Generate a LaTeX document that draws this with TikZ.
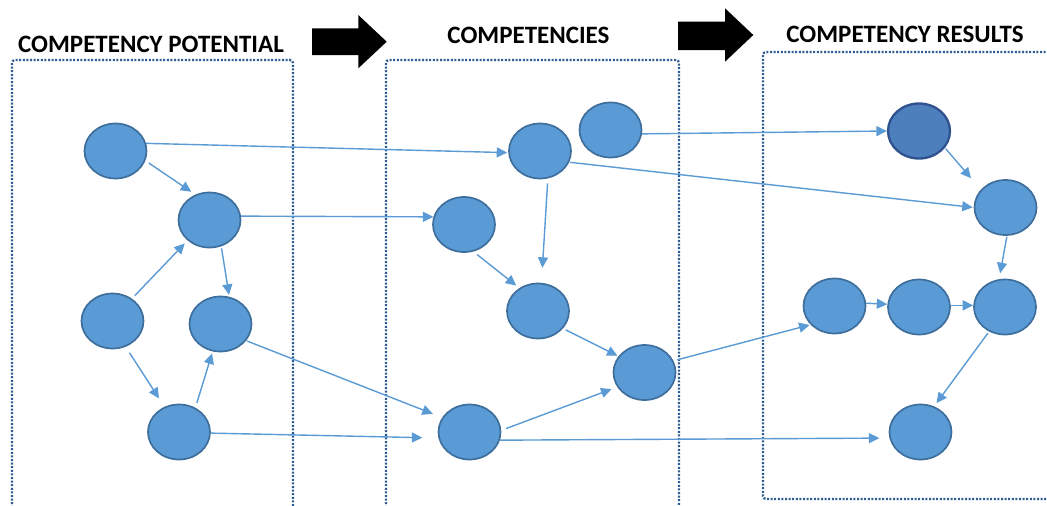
\documentclass[tikz,border=0pt]{standalone}
\usepackage{fontspec}
\setmainfont{Carlito}
\usetikzlibrary{shapes.geometric,arrows.meta}
\definecolor{nodefill}{HTML}{5B9BD5}
\definecolor{nodeline}{HTML}{3D6E9C}
\definecolor{darkfill}{HTML}{4D7FBC}
\definecolor{darkline}{HTML}{2F528F}
\definecolor{edgecol}{HTML}{5B9BD5}
\definecolor{boxcol}{HTML}{2C5C92}
\tikzset{
  circ/.style={ellipse, draw=nodeline, fill=nodefill, line width=1.7pt,
    minimum width=62pt, minimum height=55pt, inner sep=0pt},
  darkcirc/.style={circ, draw=darkline, fill=darkfill, line width=2.3pt},
  edge/.style={draw=edgecol, line width=1.4pt,
    -{Triangle[length=10.5pt,width=10pt]}},
  dotbox/.style={draw=boxcol, line width=2.3pt, dash pattern=on 2pt off 1.6pt,
    rounded corners=3pt},
  title/.style={font=\bfseries\fontsize{25}{29}\selectfont, inner sep=0pt},
  bigarrow/.style={fill=black, draw=none}
}
\begin{document}
\begin{tikzpicture}[x=1pt,y=-1pt]
\useasboundingbox (0,0) rectangle (1047,506);
\clip (0,0) rectangle (1047,506);
\fill[white] (0,0) rectangle (1047,506);

% dotted boxes
\draw[dotbox] (12,515) -- (12,60) -- (293,60) -- (293,515);
\draw[dotbox] (386,515) -- (386,60) -- (679,60) -- (679,515);
\draw[dotbox] (1060,52) -- (763,52) -- (763,499) -- (1060,499);

% titles
\node[title] (t1) at (151,44.5) {COMPETENCY POTENTIAL};
\node[title] (t2) at (528.5,35.5) {COMPETENCIES};
\node[title] (t3) at (905,34.5) {COMPETENCY RESULTS};

% block arrows
\fill[bigarrow] (312,28.3) -- (358.3,28.3) -- (358.3,15) -- (386.7,41.7)
  -- (358.3,68.3) -- (358.3,55) -- (312,55) -- cycle;
\fill[bigarrow] (678,21.7) -- (725,21.7) -- (725,8.3) -- (753.3,35)
  -- (725,61.7) -- (725,50) -- (678,50) -- cycle;

% nodes
\node[circ] (A1) at (115.5,151) {};
\node[circ] (A2) at (209.5,220) {};
\node[circ] (A3) at (112.5,321) {};
\node[circ] (A4) at (220.5,324) {};
\node[circ] (A5) at (179,432) {};
\node[circ] (B1) at (540,151) {};
\node[circ] (B2) at (610.5,130) {};
\node[circ] (B3) at (464,224.5) {};
\node[circ] (B4) at (538,311) {};
\node[circ] (B5) at (644.5,372.5) {};
\node[circ] (B6) at (469.5,432) {};
\node[darkcirc] (C1) at (919,131) {};
\node[circ] (C2) at (1005.5,207.5) {};
\node[circ] (C3) at (834.5,306) {};
\node[circ] (C4) at (919,307) {};
\node[circ] (C5) at (1005,307) {};
\node[circ] (C6) at (920.5,432) {};

% edges
\draw[edge, shorten <=4pt, shorten >=5pt] (A1.-18) -- (A2.119);
\draw[edge, shorten >=1pt] (A1.14) -- (B1.183);
\draw[edge] (A2.7) -- (B3.166);
\draw[edge, shorten <=2pt, shorten >=2pt] (A2.-66) -- (A4.72);
\draw[edge, shorten <=4pt, shorten >=4pt] (A3.49) -- (A2.223);
\draw[edge, shorten <=7pt, shorten >=10pt] (A3.-63) -- (A5.120);
\draw[edge, shorten <=5pt, shorten >=2pt] (A5.56) -- (A4.254);
\draw[edge, shorten >=16pt] (A5.-2) -- (B6.191);
\draw[edge, shorten <=1pt, shorten >=10pt] (A4.-33) -- (B6.152);
\draw[edge, shorten <=5pt, shorten >=15pt] (B1.-74) -- (B4.83);
\draw[edge, shorten <=5pt, shorten >=4pt] (B3.-71) -- (B4.129);
\draw[edge, shorten <=1pt, shorten >=1pt] (B1.-21) -- (C2.180);
\draw[edge] (B2.-7) -- (C1.180);
\draw[edge, shorten <=1pt, shorten >=15pt] (C1.-33) -- (C2.144);
\draw[edge, shorten <=1pt, shorten >=6pt] (C2.-87) -- (C5.102);
\draw[edge] (C3.5) -- (C4.175);
\draw[edge] (C4.3) -- (C5.177);
\draw[edge, shorten <=2pt, shorten >=4pt] (C5.237) -- (C6.62);
\draw[edge, shorten <=4pt, shorten >=1pt] (B5.22) -- (C3.218);
\draw[edge, shorten <=5pt, shorten >=6pt] (B6.3) -- (B5.208);
\draw[edge, shorten <=3pt, shorten >=1pt] (B4.-35) -- (B5.148);
\draw[edge, shorten >=10pt] (B6.-15) -- (C6.191);
\end{tikzpicture}
\end{document}
